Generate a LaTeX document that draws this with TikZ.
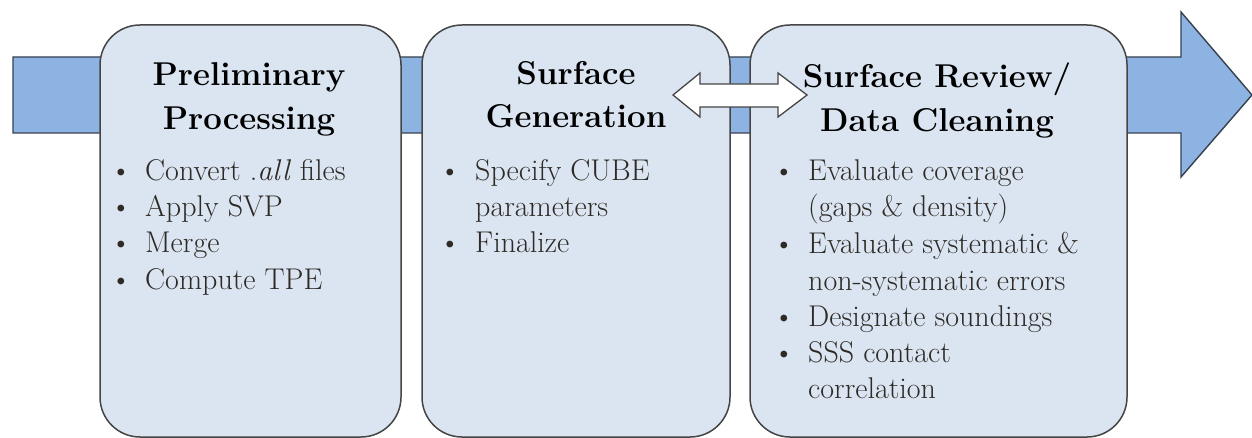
\documentclass[tikz,border=0pt]{standalone}
\usepackage{fontspec}
\definecolor{flowblue}{HTML}{8DB3E2}
\definecolor{flowline}{HTML}{36404E}
\definecolor{boxfill}{HTML}{DBE5F1}
\definecolor{boxline}{HTML}{454545}
\definecolor{itemtext}{HTML}{2E2A26}
\begin{document}
\begin{tikzpicture}[x=1pt,y=-1pt,
  flow/.style={fill=flowblue, draw=flowline, line width=1.4pt, line join=miter},
  swap/.style={fill=white, draw=boxline, line width=1.3pt, line join=miter},
  stagebox/.style={rectangle, rounded corners=40pt, fill=boxfill, draw=boxline,
    line width=1.5pt, inner sep=0pt, minimum height=412pt},
  heading/.style={font=\fontsize{33}{44}\selectfont\bfseries, anchor=base,
    inner sep=0pt, text=black},
  dot/.style={font=\fontsize{30}{36}\selectfont, anchor=base, inner sep=0pt, text=itemtext},
  entry/.style={font=\fontsize{30}{36}\selectfont, anchor=base west, inner sep=0pt, text=itemtext}]
\useasboundingbox (0,0) rectangle (1252,438);

% process flow arrow behind the stages
\draw[flow] (13,57) -- (1181,57) -- (1181,12) -- (1252,95) -- (1181,177)
  -- (1181,133) -- (13,133) -- cycle;

% stage boxes
\node[stagebox, minimum width=301pt] (prelim) at (250.5,231) {};
\node[stagebox, minimum width=308pt] (surfgen) at (576,231) {};
\node[stagebox, minimum width=377pt] (review) at (938.5,231) {};

% two-way exchange between generation and review
\draw[swap] (673,95) -- (700,73) -- (700,84) -- (778,84) -- (778,73) -- (807,95)
  -- (778,117) -- (778,107) -- (700,107) -- (700,117) -- cycle;

% Preliminary Processing
\node[heading] (h1a) at (249,86) {Preliminary};
\node[heading] (h1b) at (249,130) {Processing};
\node[dot] (d1a) at (121,181) {•};
\node[entry] (t1a) at (145,181) {Convert .\textit{all} files};
\node[dot] (d1b) at (121,217) {•};
\node[entry] (t1b) at (145,217) {Apply SVP};
\node[dot] (d1c) at (121,253) {•};
\node[entry] (t1c) at (145,253) {Merge};
\node[dot] (d1d) at (121,289) {•};
\node[entry] (t1d) at (145,289) {Compute TPE};

% Surface Generation
\node[heading] (h2a) at (576,85) {Surface};
\node[heading] (h2b) at (576,128) {Generation};
\node[dot] (d2a) at (450,181) {•};
\node[entry] (t2a) at (475,181) {Specify CUBE};
\node[entry] (t2b) at (475,217) {parameters};
\node[dot] (d2c) at (450,253) {•};
\node[entry] (t2c) at (475,253) {Finalize};

% Surface Review / Data Cleaning
\node[heading] (h3a) at (937,88) {Surface Review/};
\node[heading] (h3b) at (937,132) {Data Cleaning};
\node[dot] (d3a) at (784,181) {•};
\node[entry] (t3a) at (808,181) {Evaluate coverage};
\node[entry] (t3b) at (808,217) {(gaps \& density)};
\node[dot] (d3c) at (784,254) {•};
\node[entry] (t3c) at (808,254) {Evaluate systematic \&};
\node[entry] (t3d) at (808,290) {non-systematic errors};
\node[dot] (d3e) at (784,326) {•};
\node[entry] (t3e) at (808,326) {Designate soundings};
\node[dot] (d3f) at (784,362) {•};
\node[entry] (t3f) at (808,362) {SSS contact};
\node[entry] (t3g) at (808,398) {correlation};
\end{tikzpicture}
\end{document}
